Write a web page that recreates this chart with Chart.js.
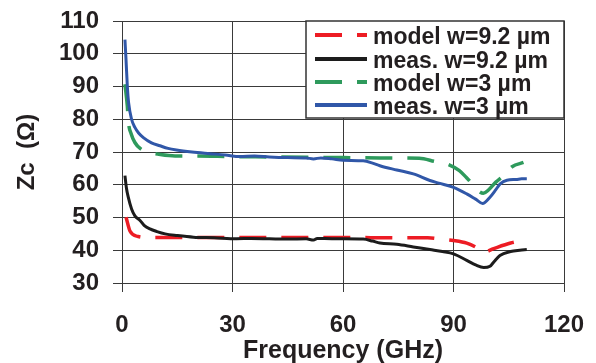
<!DOCTYPE html>
<html>
<head>
<meta charset="utf-8">
<script src="https://cdn.jsdelivr.net/npm/chart.js@4.4.1/dist/chart.umd.min.js"></script>
<style>
    html, body { margin: 0; padding: 0; background: #fff; }
    #wrap { width: 596px; height: 363px; position: relative; }
</style>
</head>
<body>
<div id="wrap"><canvas id="zcChart"></canvas></div>
<script>
/* ======================================================
   DATA
====================================================== */
const seriesLabels = ['model w=9.2 µm', 'meas. w=9.2 µm', 'model w=3 µm', 'meas. w=3 µm'];

const freqModel92 = [1.1, 2.2, 4.4, 7, 20, 40, 60, 75, 83, 86.6, 90, 93.6, 96, 98.2, 100.9, 105.5, 110];
const zcModel92   = [50.1, 45.8, 44.2, 43.9, 43.9, 43.9, 43.9, 43.8, 43.8, 43.4, 43.0, 42.2, 41, 39.4, 40.5, 42.2, 43.2];

const freqMeas92 = [0.8, 1.2, 1.7, 2.6, 3.5, 4.9, 6, 7.6, 9.5, 11.7, 15, 19.4, 25, 31.1, 35, 40, 45, 50, 52, 53, 57, 60,
                    65.5, 68, 70, 74.6, 79.1, 83.6, 87, 90, 93.6, 96, 98.2, 99.9, 101, 102.6, 105.5, 108, 109.9];
const zcMeas92   = [62.8, 59, 56.2, 52.6, 50.5, 49.1, 47.6, 46.5, 45.7, 45.0, 44.5, 44.0, 43.8, 43.5, 43.6, 43.5, 43.4, 43.5, 43.1, 43.6, 43.5, 43.5,
                    43.4, 42.8, 42.2, 41.8, 41.0, 40.2, 39.6, 38.9, 36.9, 35.5, 34.7, 35.1, 36.5, 38.4, 39.6, 40.0, 40.2];

const freqModel3 = [0.8, 1.45, 1.7, 2.5, 3.5, 5, 7.6, 10, 14.4, 20, 30, 40, 50, 60, 70, 80.7, 85, 88.4, 91.6, 93.5,
                    94.8, 96.7, 98.1, 99.5, 101.5, 103.6, 105.9, 109];
const zcModel3   = [90.7, 84, 79.5, 75.5, 72.9, 71, 69.8, 69.3, 68.8, 68.8, 68.6, 68.5, 68.4, 68.3, 68.2, 68.1, 67.1, 66.3, 64.3, 62.2,
                    60.7, 58.2, 57.4, 58.4, 60.8, 62.8, 65.5, 66.8];

const freqMeas3 = [0.8, 1.1, 1.45, 1.8, 2.6, 3.5, 4.5, 5.8, 8, 10.3, 12.5, 14.8, 19, 23.9, 28, 32, 36, 40, 45, 50, 52, 54, 57, 60,
                   65.5, 68, 70, 74.6, 79.1, 83.6, 86, 90, 93.6, 96, 97.9, 99.9, 101.5, 102.6, 104.5, 107, 108.5, 109.9];
const zcMeas3   = [104.3, 98, 90, 85, 80, 77.5, 75.8, 74.4, 72.8, 71.9, 71.1, 70.6, 70, 69.5, 69.1, 68.6, 68.8, 68.5, 68.3, 68.2, 67.9, 68.2, 67.9, 67.5,
                   67.3, 66.6, 65.8, 64.5, 63.3, 61.3, 60.5, 59.2, 57.2, 55.6, 54.3, 56.2, 58.5, 60.2, 61.4, 61.6, 61.8, 61.8];

const xTicks = [0, 30, 60, 90, 120];
const yTicks = [30, 40, 50, 60, 70, 80, 90, 100, 110];

const toPoints = (xs, ys) => xs.map((x, i) => ({ x: x, y: ys[i] }));

/* ======================================================
   LEGEND BOX (drawn inside the plot, top right)
====================================================== */
const boxLegend = {
    id: 'boxLegend',
    afterDraw(chart) {
        const ctx = chart.ctx;
        const area = chart.chartArea;
        const left = area.right - 258, top = area.top, right = area.right, bottom = area.top + 97;

        ctx.save();
        ctx.fillStyle = '#fff';
        ctx.fillRect(left, top, right - left, bottom - top);
        ctx.strokeStyle = '#333';
        ctx.lineWidth = 1.5;
        ctx.strokeRect(left, top, right - left, bottom - top);

        const rows = [14, 38, 61, 84];
        ctx.font = 'bold 23px "Liberation Sans", Arial, sans-serif';
        ctx.textBaseline = 'alphabetic';
        ctx.textAlign = 'left';

        chart.data.datasets.forEach((ds, i) => {
            const y = top + rows[i];
            ctx.strokeStyle = ds.borderColor;
            ctx.lineWidth = 4;
            ctx.setLineDash(ds.borderDash || []);
            ctx.beginPath();
            ctx.moveTo(left + 9, y);
            ctx.lineTo(left + 61, y);
            ctx.stroke();
            ctx.setLineDash([]);

            ctx.fillStyle = '#231f20';
            ctx.fillText(ds.label, left + 67, y + 9);
        });
        ctx.restore();
    }
};

/* ======================================================
   CHART
====================================================== */
Chart.defaults.font.family = '"Liberation Sans", Arial, sans-serif';
Chart.defaults.color = '#231f20';

const gridColor = '#3a3a3a';

new Chart(document.getElementById('zcChart'), {
    type: 'line',
    data: {
        datasets: [
            {
                label: seriesLabels[0],
                data: toPoints(freqModel92, zcModel92),
                borderColor: '#ed1c24',
                borderWidth: 3.5,
                borderDash: [27, 15],
                order: 1
            },
            {
                label: seriesLabels[1],
                data: toPoints(freqMeas92, zcMeas92),
                borderColor: '#1c1c1c',
                borderWidth: 3,
                order: 0
            },
            {
                label: seriesLabels[2],
                data: toPoints(freqModel3, zcModel3),
                borderColor: '#2e9a5c',
                borderWidth: 3.5,
                borderDash: [27, 15],
                order: 1
            },
            {
                label: seriesLabels[3],
                data: toPoints(freqMeas3, zcMeas3),
                borderColor: '#3057a8',
                borderWidth: 3,
                order: 0
            }
        ]
    },
    options: {
        responsive: true,
        maintainAspectRatio: false,
        animation: false,
        layout: { autoPadding: false, padding: { top: 21, right: 32, bottom: 0, left: 0 } },
        elements: {
            point: { radius: 0 },
            line: { cubicInterpolationMode: 'monotone', fill: false }
        },
        plugins: {
            legend: { display: false },
            tooltip: { enabled: false }
        },
        scales: {
            x: {
                type: 'linear',
                min: 0,
                max: 120,
                afterBuildTicks: s => { s.ticks = xTicks.map(v => ({ value: v })); },
                afterFit: s => {
                    s.height = 80;
                    s.paddingLeft = 0;
                    s.paddingRight = 0;
                },
                ticks: {
                    font: { size: 24, weight: 'bold' },
                    padding: 19,
                    maxRotation: 0
                },
                grid: { color: gridColor, lineWidth: 1, tickLength: 9 },
                border: { color: gridColor, width: 1 },
                title: {
                    display: true,
                    text: 'Frequency (GHz)',
                    font: { size: 25, weight: 'bold' },
                    padding: { top: 0, bottom: -3 }
                }
            },
            y: {
                min: 30,
                max: 110,
                afterBuildTicks: s => { s.ticks = yTicks.map(v => ({ value: v })); },
                afterFit: s => {
                    s.width = 122;
                    s.paddingTop = 0;
                    s.paddingBottom = 0;
                },
                ticks: {
                    font: { size: 24, weight: 'bold' },
                    padding: 14
                },
                grid: { color: gridColor, lineWidth: 1, tickLength: 9 },
                border: { color: gridColor, width: 1 },
                title: {
                    display: true,
                    text: 'Zc  (Ω)',
                    font: { size: 24, weight: 'bold' },
                    padding: { top: 13, bottom: 0 }
                }
            }
        }
    },
    plugins: [boxLegend]
});
</script>
</body>
</html>
